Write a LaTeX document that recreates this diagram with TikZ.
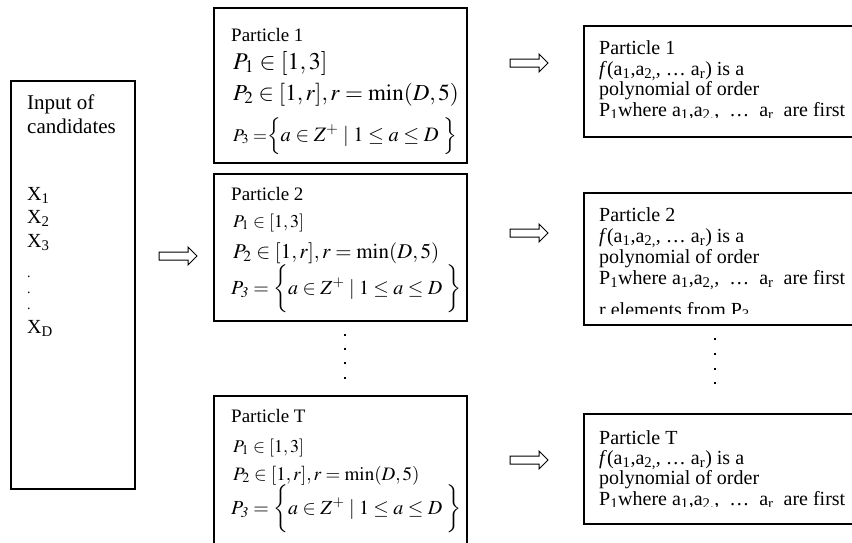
\documentclass[tikz,border=0pt]{standalone}
\usepackage{mathptmx}
\usepackage[no-math]{fontspec}
\setmainfont{Liberation Serif}
\usetikzlibrary{shapes.arrows}
\newcommand\myfs[1]{\fontsize{#1}{#1}\selectfont}
\newcommand\lastline{P\textsubscript{1}where a\textsubscript{1},a\textsubscript{2,},\ \ \ldots\ \ a\textsubscript{r}\ \ are first}
\newcommand\fline{\textit{f}(a\textsubscript{1},a\textsubscript{2,}, \ldots\ a\textsubscript{r}) is a}
\tikzset{
  frame/.style={draw, line width=1.6pt, rectangle, anchor=north west, inner sep=0pt},
  blockarrow/.style={single arrow, draw, line width=1pt, minimum height=38pt,
    inner xsep=0pt, inner ysep=3.5pt, single arrow head extend=5pt,
    single arrow head indent=0pt},
  txt/.style={anchor=base west, inner sep=0pt},
  rtxt/.style={anchor=base west, inner sep=0pt, font=\myfs{20}},
  dotmark/.style={fill, inner sep=0pt, minimum size=2pt, rectangle}
}
\begin{document}
\begin{tikzpicture}[x=1pt,y=-1pt]
\useasboundingbox (0,0) rectangle (852,542);
\clip (0,0) rectangle (852,542);
% left box
\node[frame, minimum width=124pt, minimum height=408pt] (inp) at (10,80) {};
\node[txt] (t1) at (27,109) {\myfs{21}Input of};
\node[txt] (t2) at (27,133) {\myfs{21}candidates};
\node[txt] (x1) at (27,200) {\myfs{20}X\textsubscript{1}};
\node[txt] (x2) at (27,223) {\myfs{20}X\textsubscript{2}};
\node[txt] (x3) at (27,247) {\myfs{20}X\textsubscript{3}};
\node[txt] (d1) at (27,277) {\myfs{14}.};
\node[txt] (d2) at (27,293) {\myfs{14}.};
\node[txt] (d3) at (27,309) {\myfs{14}.};
\node[txt] (xd) at (27,333) {\myfs{20}X\textsubscript{D}};
% arrows
\node[blockarrow] (arL) at (176,256) {};
\node[blockarrow] (ar1) at (527,63) {};
\node[blockarrow] (ar2) at (527,233) {};
\node[blockarrow] (arT) at (527,460) {};
% middle boxes
\node[frame, minimum width=253pt, minimum height=155pt] (m1) at (213,7) {};
\node[frame, minimum width=253pt, minimum height=147pt] (m2) at (213,173) {};
\node[frame, minimum width=253pt, minimum height=152pt] (mT) at (213,395) {};
% box 1
\node[txt] (p1a) at (231,41) {\myfs{19}Particle 1};
\node[txt] (p1b) at (233,69) {\myfs{24}$P_1\in[1,3]$};
\node[txt] (p1c) at (233,100) {\myfs{23}$P_2\in[1,r], r=\min(D,5)$};
\node[txt] (p1d) at (233,141) {\myfs{18}$P_3=$\myfs{20.5}$\left\{a\in Z^{+}\mid 1\le a\le D\;\rule[-0.7em]{0pt}{1.8em}\right\}$};
% box 2
\node[txt] (p2a) at (231,200) {\myfs{19}Particle 2};
\node[txt] (p2b) at (233,227) {\myfs{18}$P_1\in[1,3]$};
\node[txt] (p2c) at (233,258) {\myfs{21}$P_2\in[1,r], r=\min(D,5)$};
\node[txt] (p2d) at (231,294) {\myfs{20}$P_{\mathit{3}}=\left\{a\in Z^{+}\mid 1\le a\le D\;\rule[-0.8em]{0pt}{2.1em}\right\}$};
% box T
\node[txt] (pTa) at (231,422) {\myfs{19}Particle T};
\node[txt] (pTb) at (233,452) {\myfs{18}$P_1\in[1,3]$};
\node[txt] (pTc) at (233,480) {\myfs{19}$P_2\in[1,r], r=\min(D,5)$};
\node[txt] (pTd) at (231,514) {\myfs{20}$P_{\mathit{3}}=\left\{a\in Z^{+}\mid 1\le a\le D\;\rule[-0.8em]{0pt}{2.1em}\right\}$};
% middle dots
\node[dotmark] (md1) at (345,335) {};
\node[dotmark] (md2) at (345,349) {};
\node[dotmark] (md3) at (345,363) {};
\node[dotmark] (md4) at (345,378) {};
% right boxes
\node[frame, minimum width=290pt, minimum height=111pt] (r1) at (583,25) {};
\node[frame, minimum width=290pt, minimum height=132pt] (r2) at (583,192) {};
\node[frame, minimum width=290pt, minimum height=110pt] (rT) at (583,413) {};
\begin{scope}
\clip (585,27) rectangle (860,117.5);
\node[rtxt] (r1a) at (599,54) {Particle 1};
\node[rtxt] (r1b) at (599,75) {\fline};
\node[rtxt] (r1c) at (599,95) {polynomial of order};
\node[rtxt] (r1d) at (599,116) {\lastline};
\end{scope}
\begin{scope}
\clip (585,194) rectangle (860,313);
\node[rtxt] (r2a) at (599,221) {Particle 2};
\node[rtxt] (r2b) at (599,242) {\fline};
\node[rtxt] (r2c) at (599,263) {polynomial of order};
\node[rtxt] (r2d) at (599,284) {\lastline};
\node[rtxt] (r2e) at (599,316) {r elements from P\textsubscript{3}.};
\end{scope}
\begin{scope}
\clip (585,415) rectangle (860,506.5);
\node[rtxt] (rTa) at (599,444) {Particle T};
\node[rtxt] (rTb) at (599,464) {\fline};
\node[rtxt] (rTc) at (599,484) {polynomial of order};
\node[rtxt] (rTd) at (599,505) {\lastline};
\end{scope}
% right dots
\node[dotmark] (rd1) at (715,339) {};
\node[dotmark] (rd2) at (715,354) {};
\node[dotmark] (rd3) at (715,369) {};
\node[dotmark] (rd4) at (715,383) {};
\end{tikzpicture}
\end{document}
